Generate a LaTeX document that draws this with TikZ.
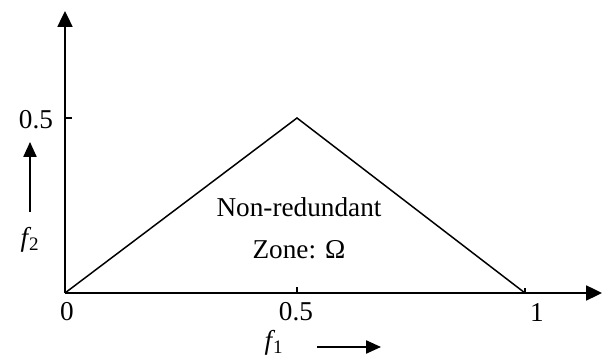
\documentclass[tikz,border=0pt]{standalone}
\usepackage{fontspec}
\setmainfont{Liberation Serif}
\usetikzlibrary{arrows.meta}

\tikzset{
	axisline/.style={line width=1.1pt,-{Triangle[length=9pt,width=8.5pt]}},
	hintarrow/.style={line width=0.9pt,-{Triangle[length=8.5pt,width=7.5pt]}},
	lbl/.style={font=\fontsize{15.5}{18}\selectfont,inner sep=0pt}
}

\begin{document}
\begin{tikzpicture}
	\useasboundingbox (-1.3,-1.28) rectangle (10.74,5.86);
	% axes
	\coordinate (O) at (0,0);
	\coordinate (ytip) at (0,5.64);
	\coordinate (xtip) at (10.74,0);
	\draw[axisline] (O) -- (ytip);
	\draw[axisline] (O) -- (xtip);
	% zone boundary
	\coordinate (apex) at (4.64,3.5);
	\coordinate (xone) at (9.2,0);
	\draw[line width=0.85pt] (O) -- (apex) -- (xone);
	% ticks
	\coordinate (yhalf) at (0,3.5);
	\coordinate (xhalf) at (4.64,0);
	\draw[line width=0.7pt] (yhalf) -- ++(0.14,0);
	\draw[line width=0.7pt] (xhalf) -- ++(0,0.12);
	\draw[line width=0.7pt] (xone) -- ++(0,0.1);
	% tick labels
	\node[lbl] (l0) at (0.04,-0.38) {0};
	\node[lbl] (lxh) at (4.62,-0.38) {0.5};
	\node[lbl] (lx1) at (9.44,-0.4) {1};
	\node[lbl] (lyh) at (-0.58,3.46) {0.5};
	% axis names
	\node[lbl] (ftwo) at (-0.7,1.06) {\textit{f}\kern-0.08em\textsubscript{2}};
	\coordinate (ftwoA) at (-0.7,1.62);
	\coordinate (ftwoB) at (-0.7,3.02);
	\draw[hintarrow] (ftwoA) -- (ftwoB);
	\node[lbl] (fone) at (4.18,-1.0) {\textit{f}\kern-0.08em\textsubscript{1}};
	\coordinate (foneA) at (5.04,-1.08);
	\coordinate (foneB) at (6.32,-1.08);
	\draw[hintarrow] (foneA) -- (foneB);
	% zone text
	\node[lbl] (zone1) at (4.68,1.72) {Non-redundant};
	\node[lbl] (zone2) at (4.68,0.86) {Zone: Ω};
\end{tikzpicture}
\end{document}
